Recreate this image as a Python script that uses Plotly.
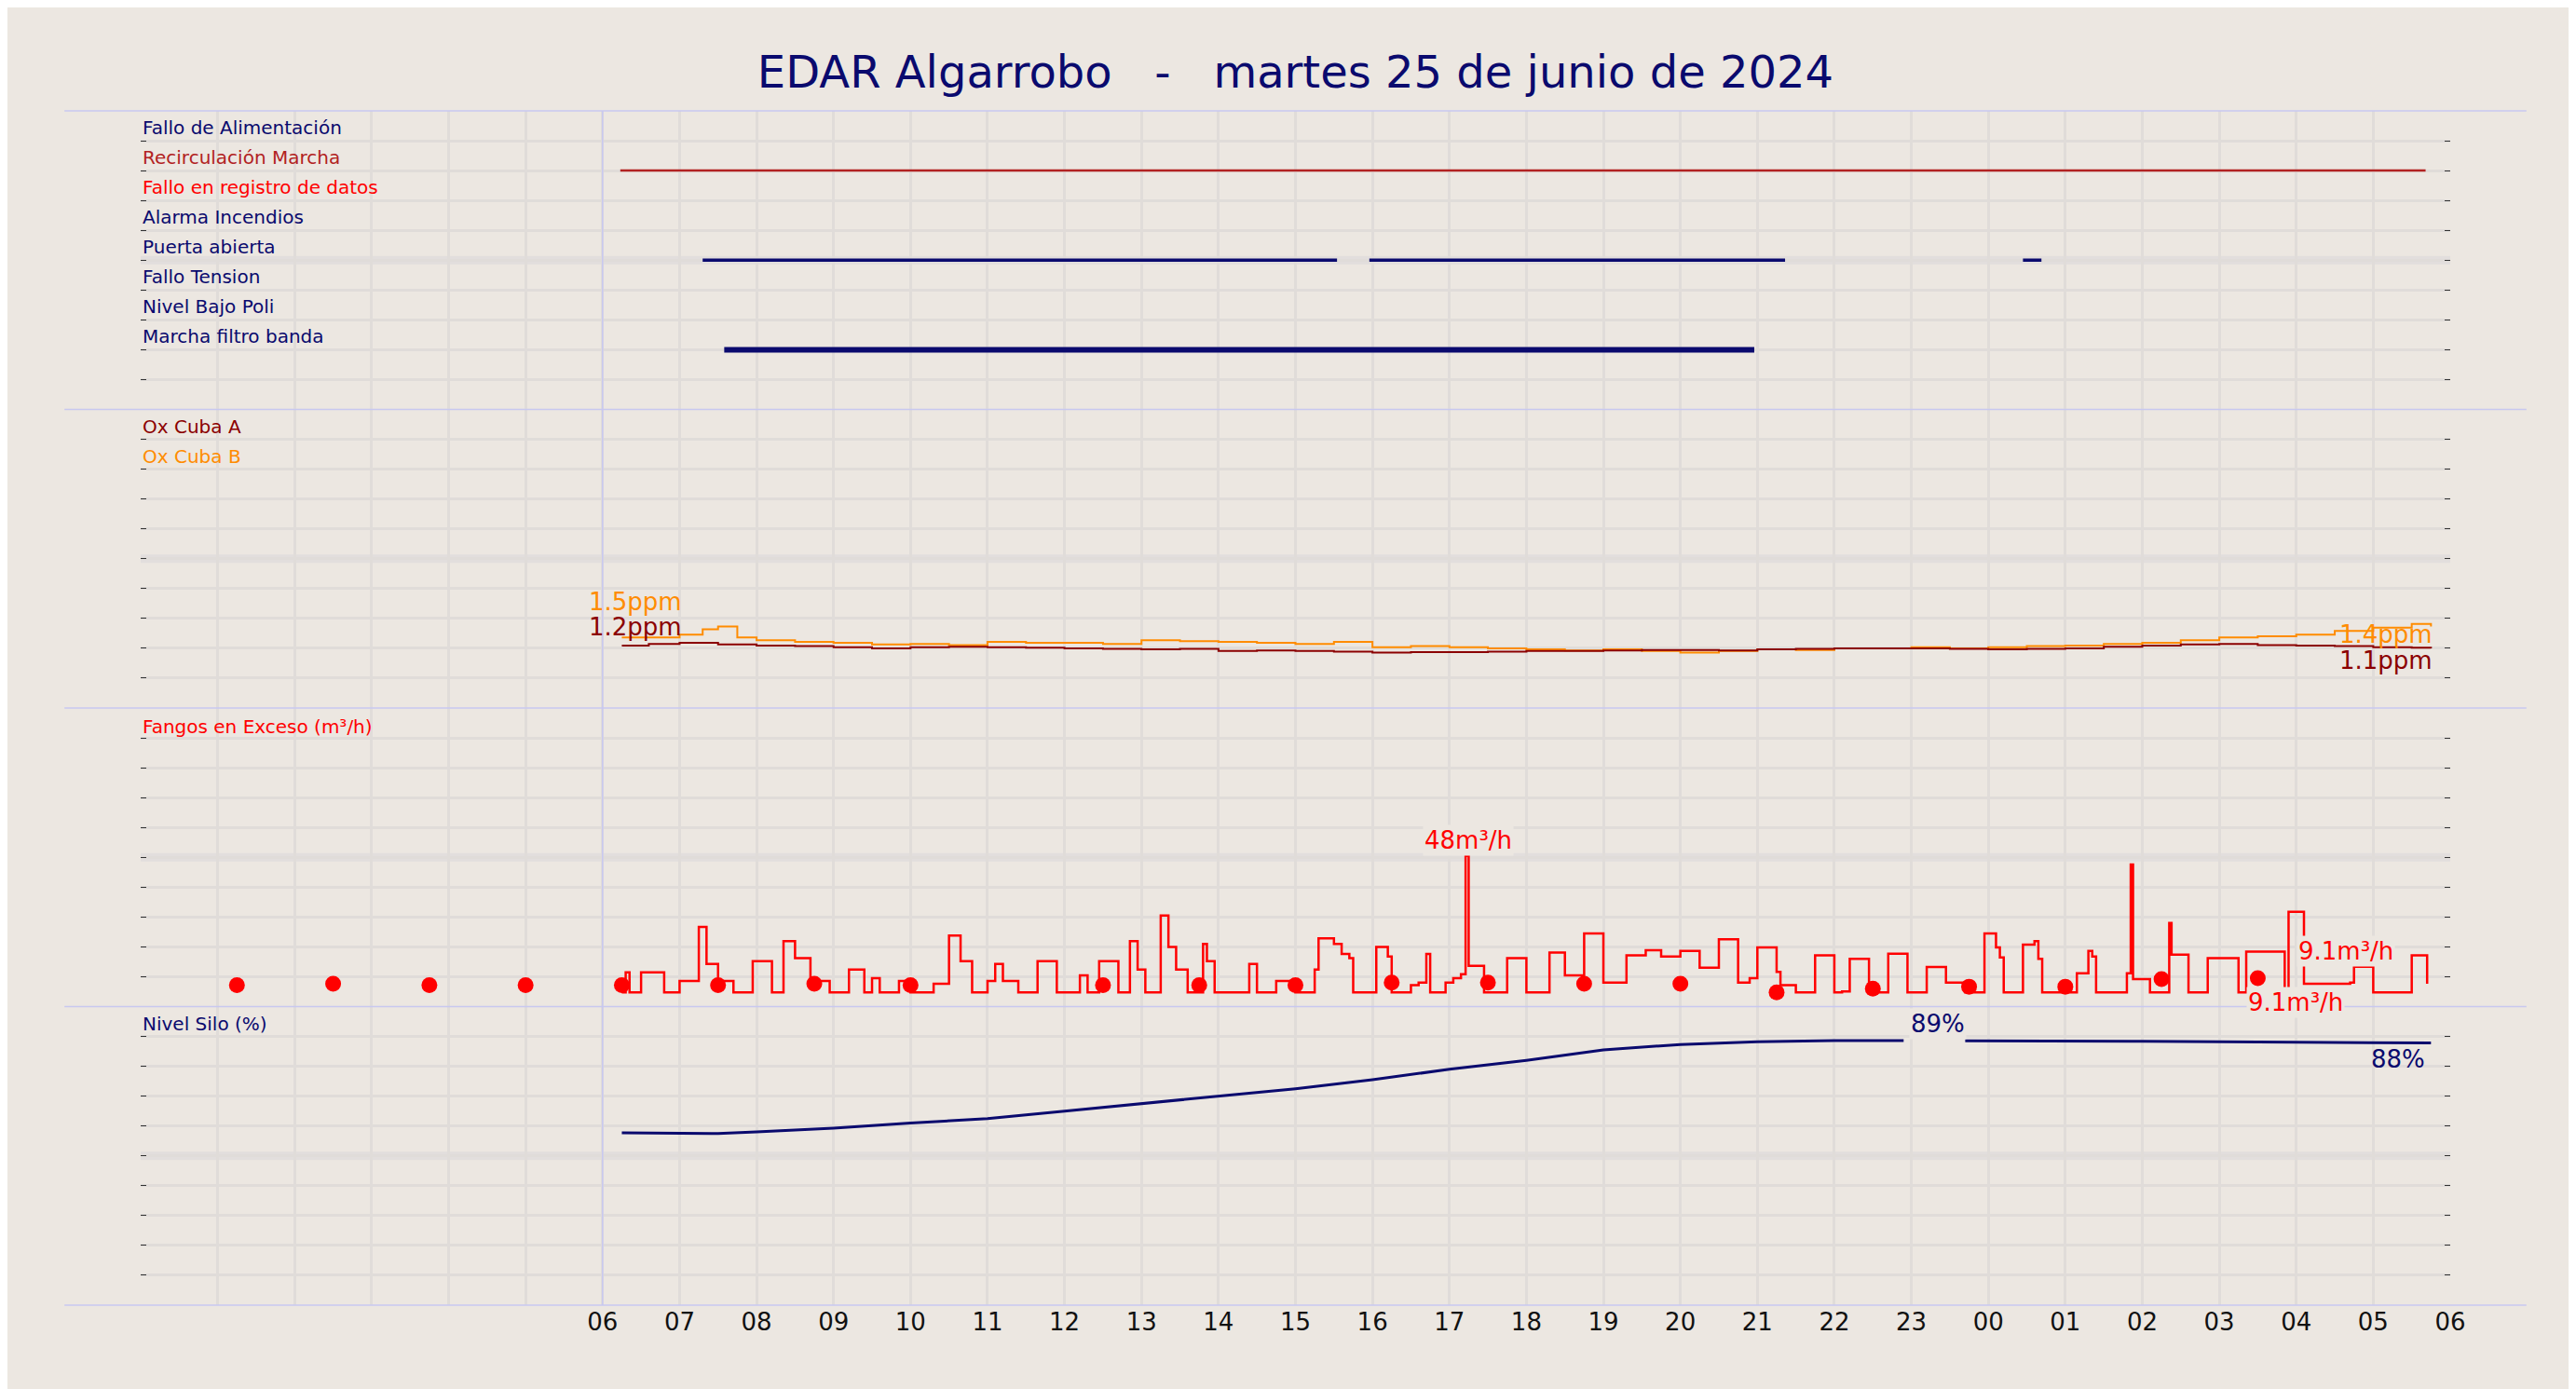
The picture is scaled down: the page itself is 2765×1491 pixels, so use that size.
import plotly.graph_objects as go

# ---- data (hours from 2024-06-25 00:00) ----
row_labels = ["Fallo de Alimentación", "Recirculación Marcha", "Fallo en registro de datos",
              "Alarma Incendios", "Puerta abierta", "Fallo Tension", "Nivel Bajo Poli",
              "Marcha filtro banda"]
row_colors = ["#0a0a6e", "#b22222", "#ff0000", "#0a0a6e", "#0a0a6e", "#0a0a6e", "#0a0a6e", "#0a0a6e"]
row_pos = [9, 8, 7, 6, 5, 4, 3, 2]

recirc_x = [6.23, 29.68]
puerta_x = [7.30, 15.54, None, 15.96, 21.36, None, 24.45, 24.69]
filtro_x = [7.58, 20.96]

ox_a_h = [6.25, 6.6, 7, 7.5, 8, 8.5, 9, 9.5, 10, 10.5, 11, 11.5, 12, 12.5, 13, 13.5, 14, 14.5, 15, 15.5,
          16, 16.5, 17, 17.5, 18, 18.5, 19, 19.5, 20, 20.5, 21, 21.5, 22, 22.5, 23, 23.5, 24, 24.5,
          25, 25.5, 26, 26.5, 27, 27.5, 28, 28.5, 29, 29.5, 29.75]
ox_a_v = [1.15, 1.18, 1.2, 1.17, 1.15, 1.14, 1.12, 1.1, 1.12, 1.13, 1.12, 1.11, 1.1, 1.09, 1.08, 1.09,
          1.05, 1.06, 1.05, 1.04, 1.02, 1.03, 1.03, 1.04, 1.05, 1.05, 1.06, 1.07, 1.07, 1.06, 1.08,
          1.09, 1.1, 1.1, 1.1, 1.09, 1.08, 1.09, 1.1, 1.13, 1.15, 1.17, 1.18, 1.16, 1.15, 1.14, 1.12,
          1.11, 1.1]
ox_b_h = [6.25, 7, 7.3, 7.5, 7.75, 8, 8.5, 9, 9.5, 10, 10.5, 11, 11.5, 12, 12.5, 13, 13.5, 14, 14.5,
          15, 15.5, 16, 16.5, 17, 17.5, 18, 18.5, 19, 19.5, 20, 20.5, 21, 21.5, 22, 22.5, 23, 23.5,
          24, 24.5, 25, 25.5, 26, 26.5, 27, 27.5, 28, 28.5, 29, 29.5, 29.75]
ox_b_v = [1.3, 1.35, 1.45, 1.5, 1.3, 1.25, 1.22, 1.2, 1.17, 1.18, 1.16, 1.22, 1.2, 1.2, 1.18, 1.25,
          1.23, 1.22, 1.2, 1.18, 1.22, 1.12, 1.14, 1.12, 1.1, 1.08, 1.06, 1.08, 1.05, 1.02, 1.05,
          1.08, 1.07, 1.1, 1.1, 1.12, 1.1, 1.12, 1.14, 1.15, 1.18, 1.2, 1.25, 1.3, 1.32, 1.35, 1.42,
          1.48, 1.55, 1.5]

fangos_h = [6.25, 6.3, 6.35, 6.5, 6.8, 7.0, 7.25, 7.35, 7.5, 7.7, 7.95, 8.2, 8.35, 8.5, 8.7, 8.95,
            9.2, 9.4, 9.5, 9.6, 9.85, 10.0, 10.3, 10.5, 10.65, 10.8, 11.0, 11.1, 11.2, 11.4, 11.65,
            11.9, 12.2, 12.3, 12.45, 12.7, 12.85, 12.95, 13.05, 13.25, 13.35, 13.45, 13.6, 13.8,
            13.85, 13.95, 14.4, 14.5, 14.75, 15.0, 15.25, 15.3, 15.5, 15.6, 15.7, 15.75, 15.8,
            16.05, 16.2, 16.25, 16.5, 16.6, 16.7, 16.75, 16.95, 17.05, 17.15, 17.21, 17.25, 17.45,
            17.75, 18.0, 18.3, 18.5, 18.75, 19.0, 19.3, 19.55, 19.75, 20.0, 20.25, 20.5, 20.75,
            20.9, 21.0, 21.25, 21.3, 21.5, 21.75, 22.0, 22.1, 22.2, 22.45, 22.7, 22.95, 23.2, 23.45,
            23.7, 23.95, 24.1, 24.15, 24.2, 24.45, 24.6, 24.65, 24.7, 25.15, 25.3, 25.35, 25.4,
            25.8, 25.85, 25.88, 26.1, 26.35, 26.38, 26.6, 26.85, 27.25, 27.35, 27.85, 27.9, 28.1,
            28.7, 28.75, 29.0, 29.5, 29.7]
fangos_v = [0, 7, 0, 7, 0, 4, 23, 10, 4, 0, 11, 0, 18, 12, 4, 0,
            8, 0, 5, 0, 4, 0, 3, 20, 11, 0, 4, 10, 4, 0, 11,
            0, 6, 0, 11, 0, 18, 8, 0, 27, 16, 8, 0, 17,
            11, 0, 10, 0, 4, 0, 8, 19, 17, 13.5, 12, 0, 0,
            16, 12.6, 0, 2.5, 3.4, 13.5, 0, 3.4, 5, 6.4, 48, 9.3, 0,
            12, 0, 14, 6, 20.7, 3.4, 13, 14.8, 12.6, 14.6, 8.7, 18.7, 3.4,
            5, 15.8, 7.2, 2.5, 0, 13, 0, 0.3, 11.8, 0, 13.6, 0, 8.9, 3.4,
            0, 20.7, 15.8, 12.3, 0, 16.8, 18, 11.8, 0, 6.7, 14.6, 12.6, 0,
            6.7, 45, 4.7, 0, 24.4, 13.3, 0, 12, 0, 14.3, 0, 28.3, 3,
            3.4, 9, 0, 13, 3]

dots_h = [1.25, 2.5, 3.75, 5.0, 6.25, 7.5, 8.75, 10.0, 12.5, 13.75, 15.0, 16.25, 17.5, 18.75,
          20.0, 21.25, 22.5, 23.75, 25.0, 26.25, 27.5]
dots_v = [2.5, 3, 2.5, 2.5, 2.5, 2.5, 3, 2.5, 2.5, 2.5, 2.5, 3.4, 3.4, 3, 3, 0, 1.3, 2, 2, 4.7, 5]

silo_h = [6.25, 7, 7.5, 8, 9, 10, 11, 12, 13, 14, 15, 16, 17, 18, 19, 20, 21, 22, 22.9, None,
          23.7, 24, 26, 28, 29.75]
silo_v = [57.7, 57.7, 57.5, 58, 59.3, 61, 62.5, 65, 67.5, 70, 72.5, 75.5, 79, 82, 85.5, 87.3,
          88.2, 88.6, 88.6, None, 88.5, 88.5, 88.4, 88.1, 87.8]

hour_ticks = list(range(6, 31))
hour_text = ["%02d" % (h % 24) for h in hour_ticks]

NAVY = "#0a0a6e"
BG = "#ece7e1"
GRID = "#e0dcd9"
SEP = "#c8c8f0"
FONT = "DejaVu Sans"

fig = go.Figure()

# panel 1: states
fig.add_trace(go.Scatter(x=recirc_x, y=[8, 8], mode="lines", line=dict(color="#b22222", width=2.5), yaxis="y4"))
fig.add_trace(go.Scatter(x=puerta_x, y=[5 if v is not None else None for v in puerta_x], mode="lines",
                         line=dict(color=NAVY, width=3.5), yaxis="y4", connectgaps=False))
fig.add_trace(go.Scatter(x=filtro_x, y=[2, 2], mode="lines", line=dict(color=NAVY, width=6), yaxis="y4"))

# panel 2: oxygen
fig.add_trace(go.Scatter(x=ox_b_h, y=ox_b_v, mode="lines", line=dict(color="#ff8c00", width=2, shape="hv"), yaxis="y3"))
fig.add_trace(go.Scatter(x=ox_a_h, y=ox_a_v, mode="lines", line=dict(color="#8b0000", width=2, shape="hv"), yaxis="y3"))

# panel 3: fangos
fig.add_trace(go.Scatter(x=fangos_h, y=fangos_v, mode="lines", line=dict(color="#ff0000", width=2.5, shape="hv"), yaxis="y2"))
fig.add_trace(go.Scatter(x=dots_h, y=dots_v, mode="markers", marker=dict(color="#ff0000", size=17), yaxis="y2"))

# panel 4: silo
fig.add_trace(go.Scatter(x=silo_h, y=silo_v, mode="lines", line=dict(color=NAVY, width=3), yaxis="y"))

ax_common = dict(showticklabels=False, showgrid=True, gridcolor=GRID, gridwidth=3, zeroline=False,
                 ticks="inside", ticklen=6, tickcolor="#333", mirror="ticks", showline=False)

fig.update_layout(
    width=2765, height=1491,
    paper_bgcolor=BG, plot_bgcolor=BG,
    margin=dict(l=143, r=143, t=111, b=98),
    showlegend=False,
    font=dict(family=FONT, color=NAVY),
    title=dict(text="EDAR Algarrobo\u00a0\u00a0\u00a0-\u00a0\u00a0\u00a0martes 25 de junio de 2024",
               x=0.5, xanchor="center", y=0.965, font=dict(size=48, color=NAVY)),
    xaxis=dict(range=[0, 30], tickvals=hour_ticks, ticktext=hour_text, showgrid=True, gridcolor=GRID,
               gridwidth=3, zeroline=False, tickfont=dict(size=26, color="#111"),
               minor=dict(dtick=1, tick0=0, showgrid=True, gridcolor=GRID, gridwidth=3), ticks=""),
    yaxis=dict(domain=[0, 0.25], range=[0, 100], dtick=10, **ax_common),
    yaxis2=dict(domain=[0.25, 0.5], range=[-5, 100], tickvals=[-5 + 10.5 * i for i in range(11)], **ax_common),
    yaxis3=dict(domain=[0.5, 0.75], range=[0, 5.5], tickvals=[0.55 * i for i in range(11)], **ax_common),
    yaxis4=dict(domain=[0.75, 1], range=[0, 10], dtick=1, **ax_common),
)

# panel separators and mid-panel heavy gridlines
for yb in [0, 0.25, 0.5, 0.75, 1.0]:
    fig.add_shape(type="line", xref="paper", yref="paper", x0=-0.033, x1=1.033, y0=yb, y1=yb,
                  line=dict(color=SEP, width=1.5), layer="above")
for ya, yv in [("y4", 5), ("y3", 2.75), ("y2", 47.5), ("y", 50)]:
    fig.add_shape(type="line", xref="paper", yref=ya, x0=0, x1=1, y0=yv, y1=yv,
                  line=dict(color="#e2dedd", width=9), layer="below")
fig.add_shape(type="line", xref="x", yref="paper", x0=6, x1=6, y0=0, y1=1,
              line=dict(color=SEP, width=1.5), layer="above")

# row labels
for lab, col, yv in zip(row_labels, row_colors, row_pos):
    fig.add_annotation(xref="paper", yref="y4", x=0, y=yv, text=lab, showarrow=False,
                       xanchor="left", yanchor="bottom", font=dict(size=20, color=col))
fig.add_annotation(xref="paper", yref="y3", x=0, y=4.95, text="Ox Cuba A", showarrow=False,
                   xanchor="left", yanchor="bottom", font=dict(size=20, color="#8b0000"))
fig.add_annotation(xref="paper", yref="y3", x=0, y=4.4, text="Ox Cuba B", showarrow=False,
                   xanchor="left", yanchor="bottom", font=dict(size=20, color="#ff8c00"))
fig.add_annotation(xref="paper", yref="y2", x=0, y=89, text="Fangos en Exceso (m³/h)", showarrow=False,
                   xanchor="left", yanchor="bottom", font=dict(size=20, color="#ff0000"))
fig.add_annotation(xref="paper", yref="y", x=0, y=90, text="Nivel Silo (%)", showarrow=False,
                   xanchor="left", yanchor="bottom", font=dict(size=20, color=NAVY))

# value labels
val_font = 26
fig.add_annotation(x=5.8, y=1.5, yref="y3", text="1.5ppm", showarrow=False, xanchor="left",
                   font=dict(size=val_font, color="#ff8c00"), yanchor="bottom", yshift=10)
fig.add_annotation(x=5.8, y=1.2, yref="y3", text="1.2ppm", showarrow=False, xanchor="left",
                   font=dict(size=val_font, color="#8b0000"), yanchor="bottom")
fig.add_annotation(x=29.8, y=1.4, yref="y3", text="1.4ppm", showarrow=False, xanchor="right",
                   font=dict(size=val_font, color="#ff8c00"), yanchor="top", yshift=14)
fig.add_annotation(x=29.8, y=1.1, yref="y3", text="1.1ppm", showarrow=False, xanchor="right",
                   font=dict(size=val_font, color="#8b0000"), yanchor="top", yshift=4)
fig.add_annotation(x=17.25, y=48, yref="y2", text="48m³/h", showarrow=False, yanchor="bottom",
                   font=dict(size=val_font, color="#ff0000"), bgcolor=BG)
fig.add_annotation(x=28.0, y=9, yref="y2", text="9.1m³/h", showarrow=False, xanchor="left",
                   yanchor="bottom", font=dict(size=val_font, color="#ff0000"), bgcolor=BG)
fig.add_annotation(x=27.35, y=2, yref="y2", text="9.1m³/h", showarrow=False, xanchor="left",
                   yanchor="top", font=dict(size=val_font, color="#ff0000"), bgcolor=BG)
fig.add_annotation(x=23.35, y=89, yref="y", text="89%", showarrow=False, yanchor="bottom",
                   font=dict(size=val_font, color=NAVY), bgcolor=BG)
fig.add_annotation(x=29.7, y=87.8, yref="y", text="88%", showarrow=False, xanchor="right",
                   yanchor="top", font=dict(size=val_font, color=NAVY))

fig.write_html("out.html")
